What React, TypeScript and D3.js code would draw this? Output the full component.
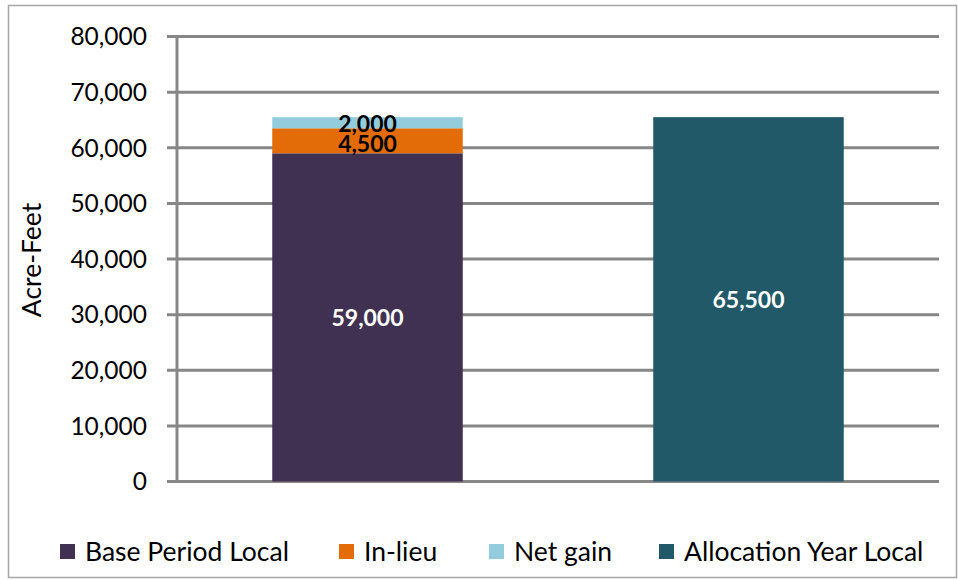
import React from "react";
import * as d3 from "d3";

const categories = ["Base Period", "Allocation Year"];
const baseLocal = [59000, 0];
const inLieu = [4500, 0];
const netGain = [2000, 0];
const allocationLocal = [0, 65500];
const seriesNames = ["Base Period Local", "In-lieu", "Net gain", "Allocation Year Local"];
const seriesColors = ["#403152", "#E36C09", "#93CDDD", "#215968"];
const labelColors = ["#ffffff", "#000000", "#000000", "#ffffff"];
const yTicks = [0, 10000, 20000, 30000, 40000, 50000, 60000, 70000, 80000];

const W = 958;
const H = 580;
const left = 177;
const right = 939;
const top = 36.5;
const bottom = 481.5;
const FONT = "Lato, 'Open Sans', sans-serif";

export default function App() {
  const x = d3.scaleBand<string>().domain(categories).range([left, right]).paddingInner(0.5).paddingOuter(0.25);
  const y = d3.scaleLinear().domain([0, 80000]).range([bottom, top]);
  const fmt = d3.format(",");

  const series = [baseLocal, inLieu, netGain, allocationLocal];
  const table = categories.map((c, i) => {
    const row: any = { cat: c };
    seriesNames.forEach((s, j) => (row[s] = series[j][i]));
    return row;
  });
  const stacked = d3.stack().keys(seriesNames)(table);

  const legendX = [60, 339, 489, 659];

  return (
    <svg width={W} height={H} style={{ position: "absolute", left: 0, top: 0 }} fontFamily={FONT}>
      <rect x={0} y={0} width={W} height={H} fill="#ffffff" />
      <rect x={8.5} y={5.5} width={948} height={572} fill="none" stroke="#a6a6a6" strokeWidth={1.5} />
      {yTicks.map((t) => (
        <g key={t}>
          <line x1={167} x2={right} y1={y(t)} y2={y(t)} stroke="#878787" strokeWidth={3} />
          <text x={147} y={y(t)} dy="0.36em" textAnchor="end" fontSize={24.5} fill="#000">
            {fmt(t)}
          </text>
        </g>
      ))}
      <line x1={left} x2={left} y1={top - 1.5} y2={bottom + 1.5} stroke="#878787" strokeWidth={3} />
      <text
        transform={`translate(41,260) rotate(-90)`}
        textAnchor="middle"
        fontSize={26.5}
        fill="#000"
      >
        Acre-Feet
      </text>
      {stacked.map((s, j) =>
        s.map((d, i) => {
          const v = d[1] - d[0];
          if (v <= 0) return null;
          const x0 = x(categories[i])!;
          return (
            <rect
              key={`${j}-${i}`}
              x={x0}
              y={y(d[1])}
              width={x.bandwidth()}
              height={y(d[0]) - y(d[1])}
              fill={seriesColors[j]}
            />
          );
        })
      )}
      {stacked.map((s, j) =>
        s.map((d, i) => {
          const v = d[1] - d[0];
          if (v <= 0) return null;
          const x0 = x(categories[i])! + x.bandwidth() / 2;
          let yc = (y(d[0]) + y(d[1])) / 2;
          if (j === 1) yc += 2.5;
          if (j === 2) yc += 1;
          return (
            <text
              key={`l${j}-${i}`}
              x={x0}
              y={yc}
              dy="0.36em"
              textAnchor="middle"
              fontSize={23}
              fontWeight="bold"
              fill={labelColors[j]}
            >
              {fmt(v)}
            </text>
          );
        })
      )}
      {seriesNames.map((s, j) => (
        <g key={s}>
          <rect x={legendX[j]} y={544} width={15} height={15} fill={seriesColors[j]} />
          <text x={legendX[j] + 25} y={561} fontSize={26.5} fill="#000">
            {s}
          </text>
        </g>
      ))}
    </svg>
  );
}
